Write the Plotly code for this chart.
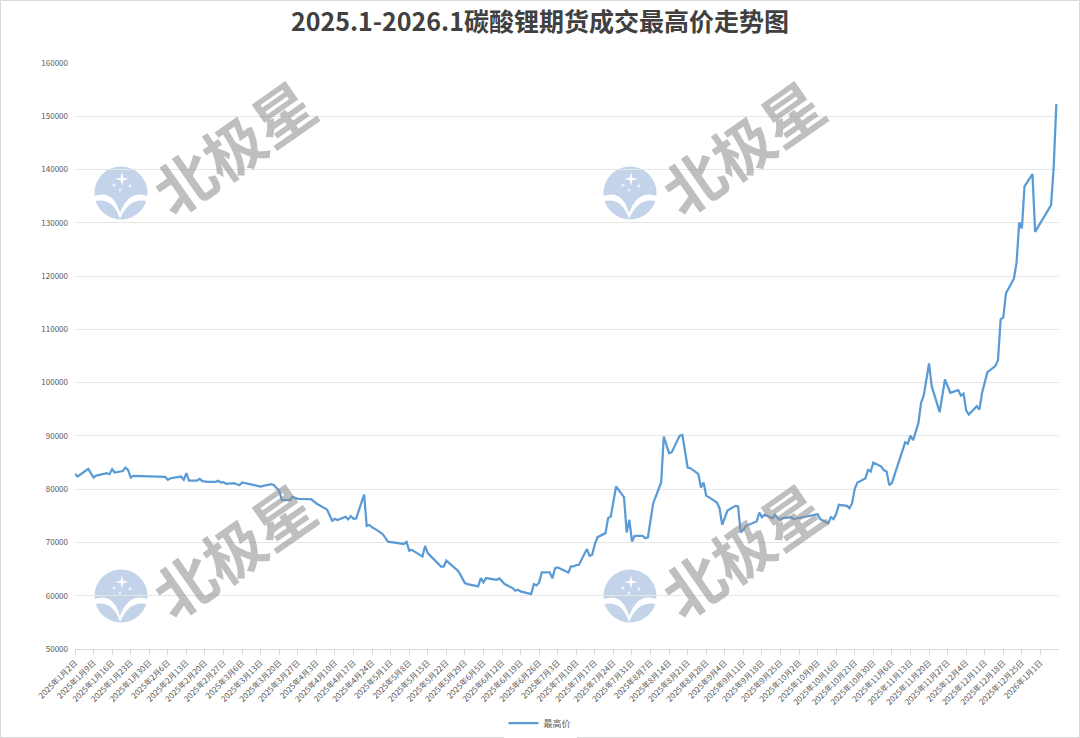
import math
import plotly.graph_objects as go
import pandas as pd

# ---------------- data ----------------
dates = [
    "2025-01-02", "2025-01-03", "2025-01-07", "2025-01-09", "2025-01-10", "2025-01-13",
    "2025-01-14", "2025-01-15", "2025-01-16", "2025-01-17", "2025-01-20", "2025-01-21",
    "2025-01-22", "2025-01-23", "2025-01-24", "2025-02-05", "2025-02-06", "2025-02-07",
    "2025-02-11", "2025-02-12", "2025-02-13", "2025-02-14", "2025-02-17", "2025-02-18",
    "2025-02-19", "2025-02-21", "2025-02-24", "2025-02-25", "2025-02-26", "2025-02-27",
    "2025-02-28", "2025-03-03", "2025-03-05", "2025-03-06", "2025-03-07", "2025-03-12",
    "2025-03-13", "2025-03-14", "2025-03-17", "2025-03-18", "2025-03-20", "2025-03-21",
    "2025-03-24", "2025-03-25", "2025-03-27", "2025-04-01", "2025-04-03", "2025-04-07",
    "2025-04-09", "2025-04-10", "2025-04-11", "2025-04-14", "2025-04-15", "2025-04-16",
    "2025-04-17", "2025-04-18", "2025-04-21", "2025-04-22", "2025-04-23", "2025-04-24",
    "2025-04-25", "2025-04-28", "2025-04-30", "2025-05-06", "2025-05-07", "2025-05-08",
    "2025-05-09", "2025-05-12", "2025-05-13", "2025-05-14", "2025-05-15", "2025-05-16",
    "2025-05-20", "2025-05-21", "2025-05-22", "2025-05-26", "2025-05-27", "2025-05-29",
    "2025-05-30", "2025-06-03", "2025-06-04", "2025-06-05", "2025-06-06", "2025-06-10",
    "2025-06-11", "2025-06-13", "2025-06-16", "2025-06-17", "2025-06-18", "2025-06-19",
    "2025-06-20", "2025-06-23", "2025-06-24", "2025-06-25", "2025-06-26", "2025-06-27",
    "2025-06-30", "2025-07-01", "2025-07-02", "2025-07-03", "2025-07-07", "2025-07-08",
    "2025-07-09", "2025-07-10", "2025-07-11", "2025-07-14", "2025-07-15", "2025-07-16",
    "2025-07-17", "2025-07-18", "2025-07-21", "2025-07-22", "2025-07-23", "2025-07-25",
    "2025-07-28", "2025-07-29", "2025-07-30", "2025-07-31", "2025-08-01", "2025-08-04",
    "2025-08-05", "2025-08-06", "2025-08-08", "2025-08-11", "2025-08-12", "2025-08-14",
    "2025-08-15", "2025-08-18", "2025-08-19", "2025-08-21", "2025-08-22", "2025-08-25",
    "2025-08-26", "2025-08-27", "2025-08-28", "2025-08-29", "2025-09-01", "2025-09-02",
    "2025-09-03", "2025-09-05", "2025-09-08", "2025-09-09", "2025-09-10", "2025-09-11",
    "2025-09-12", "2025-09-15", "2025-09-16", "2025-09-17", "2025-09-18", "2025-09-19",
    "2025-09-22", "2025-09-23", "2025-09-24", "2025-09-25", "2025-09-26", "2025-09-29",
    "2025-09-30", "2025-10-09", "2025-10-10", "2025-10-13", "2025-10-14", "2025-10-15",
    "2025-10-16", "2025-10-17", "2025-10-20", "2025-10-21", "2025-10-22", "2025-10-23",
    "2025-10-24", "2025-10-27", "2025-10-28", "2025-10-29", "2025-10-30", "2025-11-02",
    "2025-11-03", "2025-11-04", "2025-11-05", "2025-11-06", "2025-11-08", "2025-11-09",
    "2025-11-11", "2025-11-12", "2025-11-13", "2025-11-14", "2025-11-16", "2025-11-17",
    "2025-11-18", "2025-11-20", "2025-11-21", "2025-11-24", "2025-11-26", "2025-11-28",
    "2025-12-01", "2025-12-02", "2025-12-03", "2025-12-04", "2025-12-05", "2025-12-08",
    "2025-12-09", "2025-12-10", "2025-12-12", "2025-12-15", "2025-12-16", "2025-12-17",
    "2025-12-18", "2025-12-19", "2025-12-22", "2025-12-23", "2025-12-24", "2025-12-25",
    "2025-12-26", "2025-12-29", "2025-12-30", "2026-01-05", "2026-01-06", "2026-01-07",
]
high_price = [
    82875, 82375, 83810, 82190, 82560, 82875,
    83000, 82810, 83750, 83125, 83400, 84060,
    83625, 82190, 82500, 82310, 81750, 82060,
    82375, 81750, 83000, 81625, 81625, 81940,
    81500, 81375, 81375, 81560, 81250, 81310,
    81000, 81125, 80750, 81250, 81125, 80625,
    80500, 80625, 80935, 80750, 79690, 77940,
    77940, 78570, 78200, 78130, 77320, 76200,
    74080, 74450, 74200, 74830, 74330, 74950,
    74450, 74500, 79000, 73085, 73270, 72830,
    72590, 71590, 70160, 69720, 70100, 68475,
    68600, 67660, 67350, 69350, 68000, 67480,
    65480, 65480, 66600, 64860, 64240, 62370,
    62180, 61750, 63310, 62500, 63310, 63000,
    63250, 62190, 61440, 60940, 61125, 60810,
    60690, 60310, 62190, 61940, 62500, 64375,
    64375, 63250, 65190, 65310, 64375, 65500,
    65500, 65750, 65810, 68750, 67500, 67690,
    69690, 71000, 71750, 74560, 74875, 80500,
    78500, 71875, 74250, 70190, 71250, 71250,
    70810, 70940, 77375, 81250, 89875, 86750,
    86940, 90060, 90190, 84060, 83940, 82875,
    80310, 81250, 78750, 78500, 77500, 76440,
    73310, 76000, 76875, 76750, 71875, 72375,
    73125, 73810, 73940, 75625, 74750, 75190,
    74560, 75190, 74560, 74250, 74560, 74750,
    74375, 75310, 74375, 73625, 74750, 74375,
    75375, 77060, 76875, 76440, 77375, 80060,
    81250, 82000, 83625, 83310, 85000, 84250,
    83540, 83330, 80760, 81200, 84250, 85400,
    88800, 88550, 90060, 89180, 92440, 96200,
    97580, 103600, 99340, 94450, 100600, 98100,
    98600, 97580, 97960, 94820, 94000, 95580,
    94950, 98100, 101970, 103100, 104230, 111880,
    112250, 116770, 119530, 122540, 130060, 128930,
    136830, 139150, 128300, 133320, 140500, 152320,
]
series_name = "最高价"
title_text = "2025.1-2026.1碳酸锂期货成交最高价走势图"
watermark_text = "北极星"

# weekly labels of the date axis
tick_dates = pd.date_range("2025-01-02", "2026-01-01", freq="7D")
tick_labels = [f"{d.year}年{d.month}月{d.day}日" for d in tick_dates]
y_ticks = [50000, 60000, 70000, 80000, 90000, 100000, 110000,
           120000, 130000, 140000, 150000, 160000]

# ---------------- figure ----------------
W, H = 1080, 738
L, R, T, B = 75, 21, 63, 89
PW, PH = W - L - R, H - T - B
FONT = "Noto Sans CJK SC"


def fx(px):
    return (px - L) / PW


def fy(py):
    return (H - B - py) / PH


fig = go.Figure()
fig.add_trace(go.Scatter(
    x=pd.to_datetime(dates), y=high_price, mode="lines", name=series_name,
    line=dict(color="#5b9bd5", width=2.25),
))

shapes = [
    dict(type="rect", xref="paper", yref="paper", x0=fx(0.5), x1=fx(W - 0.5),
         y0=fy(H - 0.5), y1=fy(0.5), line=dict(color="#d9d9d9", width=1),
         layer="below"),
]
annotations = []


def pth(points):
    """pixel points -> paper-coordinate SVG path (closed)."""
    out = []
    for cmd, pts in points:
        coords = " ".join(f"{fx(px):.5f},{fy(py):.5f}" for px, py in pts)
        out.append(f"{cmd}{coords}")
    return " ".join(out) + " Z"


def star4(cx, cy, r, ri):
    pts = []
    for k in range(8):
        ang = math.pi / 2 + k * math.pi / 4
        rr = r if k % 2 == 0 else ri
        pts.append((cx + rr * math.cos(ang), cy - rr * math.sin(ang)))
    return pth([("M", [pts[0]])] + [("L", [p]) for p in pts[1:]])


for cx, cy in [(121, 193), (630, 193), (121, 596), (630, 596)]:
    r = 26.5
    shapes.append(dict(type="circle", xref="paper", yref="paper",
                       x0=fx(cx - r), x1=fx(cx + r), y0=fy(cy + r), y1=fy(cy - r),
                       fillcolor="#c3d4ea", line=dict(width=0), layer="below"))
    shapes.append(dict(type="path", xref="paper", yref="paper",
                       path=star4(cx + 1, cy - 14, 7, 1.8),
                       fillcolor="white", line=dict(width=0), layer="below"))
    for sx, sy, sr in [(cx - 7, cy - 8, 2.6), (cx + 9, cy - 7, 2.6), (cx - 1, cy - 3, 2.0)]:
        shapes.append(dict(type="path", xref="paper", yref="paper",
                           path=star4(sx, sy, sr, 0.8),
                           fillcolor="white", line=dict(width=0), layer="below"))
    shapes.append(dict(type="path", xref="paper", yref="paper",
                       path=pth([
                           ("M", [(cx - 26.5, cy + 3)]),
                           ("Q", [(cx - 8, cy - 4), (cx - 1, cy + 20)]),
                           ("Q", [(cx + 8, cy - 4), (cx + 26.5, cy + 3)]),
                           ("L", [(cx + 26, cy + 8)]),
                           ("Q", [(cx + 8, cy + 4), (cx - 1, cy + 26)]),
                           ("Q", [(cx - 8, cy + 4), (cx - 26, cy + 8)]),
                       ]),
                       fillcolor="white", line=dict(width=0), layer="below"))
    annotations.append(dict(x=fx(cx + 111), y=fy(cy - 48), xref="paper", yref="paper",
                            xanchor="center", yanchor="middle",
                            text="<b>" + watermark_text + "</b>", showarrow=False,
                            textangle=-35,
                            font=dict(size=60, color="rgba(140,140,140,0.56)",
                                      family=FONT)))

fig.update_layout(
    width=W, height=H,
    margin=dict(l=L, r=R, t=T, b=B, autoexpand=False),
    paper_bgcolor="white", plot_bgcolor="white",
    font=dict(family=FONT, color="#595959"),
    title=dict(text="<b>" + title_text + "</b>", x=0.5, xanchor="center",
               xref="container", y=1 - 22 / H, yanchor="middle", yref="container",
               font=dict(size=25, color="#404040", family=FONT)),
    showlegend=True,
    legend=dict(orientation="h", x=0.5, xanchor="center", xref="container",
                y=1 - 723 / H, yref="container", yanchor="middle",
                font=dict(size=9, color="#595959"), itemwidth=30),
    shapes=shapes,
    annotations=annotations,
)
fig.update_xaxes(
    type="date", range=["2025-01-02", "2026-01-08"], automargin=False,
    tickvals=tick_dates, ticktext=tick_labels, tickangle=-45,
    tickfont=dict(size=8, color="#595959"),
    showgrid=False, showline=True, linecolor="#d9d9d9", linewidth=1,
    ticks="outside", ticklen=5, tickcolor="#d9d9d9", zeroline=False,
)
fig.update_yaxes(
    range=[50000, 160000], tickvals=y_ticks, ticktext=[str(v) for v in y_ticks],
    automargin=False, tickfont=dict(size=8, color="#595959"),
    showgrid=True, gridcolor="#e6e6e6", gridwidth=1,
    showline=False, zeroline=False, ticks="", ticklabelstandoff=6,
)

fig.write_html(
    "out.html",
    config={"displayModeBar": False},
    post_script="document.body.style.margin='0';document.body.style.overflow='hidden';",
)
